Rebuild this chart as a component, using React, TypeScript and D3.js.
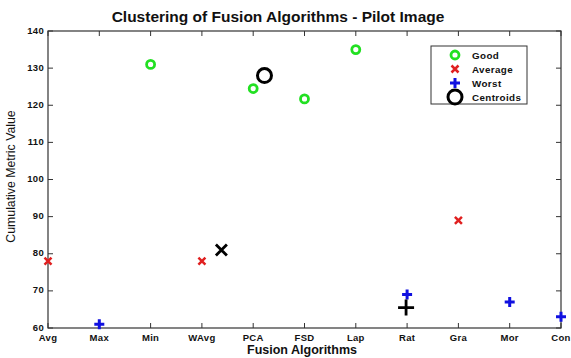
import React, { useRef, useEffect } from 'react';
import * as d3 from 'd3';

const categories = ['Avg', 'Max', 'Min', 'WAvg', 'PCA', 'FSD', 'Lap', 'Rat', 'Gra', 'Mor', 'Con'];
const goodCats = ['Min', 'PCA', 'FSD', 'Lap'];
const goodValues = [131, 124.5, 121.7, 135];
const averageCats = ['Avg', 'WAvg', 'Gra'];
const averageValues = [78, 78, 89];
const worstCats = ['Max', 'Rat', 'Mor', 'Con'];
const worstValues = [61, 69, 67, 63];
// centroid positions given as fractional category index
const centroidX = [4.22, 3.38, 6.98];
const centroidY = [128, 81, 65.5];
const centroidShape = ['circle', 'x', 'plus'];
const yTicks = [60, 70, 80, 90, 100, 110, 120, 130, 140];
const legendLabels = ['Good', 'Average', 'Worst', 'Centroids'];

const W = 571, H = 358;
const left = 48, right = 561, top = 31, bottom = 328;
const FONT = 'Arial, "Liberation Sans", sans-serif';

const App = () => {
  const svgRef = useRef<SVGSVGElement>(null);

  useEffect(() => {
    const svg = d3.select(svgRef.current);
    svg.selectAll('*').remove();

    const x = d3.scaleLinear().domain([0, categories.length - 1]).range([left, right]);
    const y = d3.scaleLinear().domain([60, 140]).range([bottom, top]);
    const xi = (c: string) => x(categories.indexOf(c));

    svg.append('rect').attr('width', W).attr('height', H).attr('fill', '#fff');

    // box
    svg.append('rect')
      .attr('x', left).attr('y', top)
      .attr('width', right - left).attr('height', bottom - top)
      .attr('fill', 'none').attr('stroke', '#333').attr('stroke-width', 1.2);

    const idx = d3.range(categories.length);
    const tick = 5;
    // x ticks (bottom + top, inward)
    svg.append('g').selectAll('line.b').data(idx).enter().append('line')
      .attr('x1', d => x(d)).attr('x2', d => x(d))
      .attr('y1', bottom).attr('y2', bottom - tick).attr('stroke', '#333');
    svg.append('g').selectAll('line.t').data(idx).enter().append('line')
      .attr('x1', d => x(d)).attr('x2', d => x(d))
      .attr('y1', top).attr('y2', top + tick).attr('stroke', '#333');
    svg.append('g').selectAll('text').data(categories).enter().append('text')
      .attr('x', (d, i) => x(i)).attr('y', bottom + 12.5)
      .attr('text-anchor', 'middle')
      .attr('font-family', FONT)
      .attr('font-size', 9.5).attr('font-weight', 'bold').attr('fill', '#111')
      .attr('letter-spacing', 0.3)
      .text(d => d);

    // y ticks (left + right, inward)
    svg.append('g').selectAll('line').data(yTicks).enter().append('line')
      .attr('x1', left).attr('x2', left + tick)
      .attr('y1', d => y(d)).attr('y2', d => y(d)).attr('stroke', '#333');
    svg.append('g').selectAll('line').data(yTicks).enter().append('line')
      .attr('x1', right).attr('x2', right - tick)
      .attr('y1', d => y(d)).attr('y2', d => y(d)).attr('stroke', '#333');
    svg.append('g').selectAll('text').data(yTicks).enter().append('text')
      .attr('x', left - 4).attr('y', d => y(d) + 2.5)
      .attr('text-anchor', 'end')
      .attr('font-family', FONT)
      .attr('font-size', 9.5).attr('font-weight', 'bold').attr('fill', '#111')
      .attr('letter-spacing', 0.3)
      .text(d => d);

    // titles
    svg.append('text').attr('x', 278).attr('y', 22).attr('text-anchor', 'middle')
      .attr('font-family', FONT)
      .attr('font-size', 15.5).attr('font-weight', 'bold').attr('fill', '#111')
      .text('Clustering of Fusion Algorithms - Pilot Image');
    svg.append('text').attr('x', 302).attr('y', 354).attr('text-anchor', 'middle')
      .attr('font-family', FONT)
      .attr('font-size', 12.5).attr('font-weight', 'bold').attr('fill', '#111')
      .text('Fusion Algorithms');
    svg.append('text')
      .attr('transform', `translate(15,${(top + bottom) / 2 - 3}) rotate(-90)`)
      .attr('text-anchor', 'middle')
      .attr('font-family', FONT)
      .attr('font-size', 12.3).attr('fill', '#111')
      .text('Cumulative Metric Value');

    // marker helpers
    const circle = (g, cx, cy, r, color, sw) =>
      g.append('circle').attr('cx', cx).attr('cy', cy).attr('r', r)
        .attr('fill', 'none').attr('stroke', color).attr('stroke-width', sw);
    const cross = (g, cx, cy, s, color, sw) => {
      g.append('path').attr('d', `M${cx - s},${cy - s}L${cx + s},${cy + s}M${cx - s},${cy + s}L${cx + s},${cy - s}`)
        .attr('stroke', color).attr('stroke-width', sw).attr('fill', 'none');
    };
    const plus = (g, cx, cy, s, color, sw) => {
      g.append('path').attr('d', `M${cx - s},${cy}L${cx + s},${cy}M${cx},${cy - s}L${cx},${cy + s}`)
        .attr('stroke', color).attr('stroke-width', sw).attr('fill', 'none');
    };

    const green = '#22e022', red = '#e02020', blue = '#1010e0';
    const pts = svg.append('g');
    goodCats.forEach((c, i) => circle(pts, xi(c), y(goodValues[i]), 4, green, 2.8));
    averageCats.forEach((c, i) => cross(pts, xi(c), y(averageValues[i]), 3.5, red, 2.5));
    worstCats.forEach((c, i) => plus(pts, xi(c), y(worstValues[i]), 5, blue, 3));
    centroidShape.forEach((s, i) => {
      const cx = x(centroidX[i]), cy = y(centroidY[i]);
      if (s === 'circle') circle(pts, cx, cy, 7, '#000', 3);
      else if (s === 'x') cross(pts, cx, cy, 5.5, '#000', 2.8);
      else plus(pts, cx, cy, 8, '#000', 2.8);
    });

    // legend
    const lg = svg.append('g');
    lg.append('rect').attr('x', 431).attr('y', 46).attr('width', 96).attr('height', 58)
      .attr('fill', '#fff').attr('stroke', '#333').attr('stroke-width', 1);
    const ly = [55, 69, 83, 97];
    circle(lg, 455, ly[0], 4, green, 2.8);
    cross(lg, 455, ly[1], 3.5, red, 2.5);
    plus(lg, 455, ly[2], 5, blue, 3);
    circle(lg, 455, ly[3], 7, '#000', 3);
    lg.selectAll('text').data(legendLabels).enter().append('text')
      .attr('x', 472).attr('y', (d, i) => ly[i] + 3.5)
      .attr('font-family', FONT)
      .attr('font-size', 9.8).attr('font-weight', 'bold').attr('fill', '#111')
      .attr('letter-spacing', 0.4)
      .text(d => d);
  }, []);

  return (
    <svg ref={svgRef} width={W} height={H}
      style={{ position: 'absolute', left: 0, top: 0, display: 'block' }} />
  );
};

export default App;
